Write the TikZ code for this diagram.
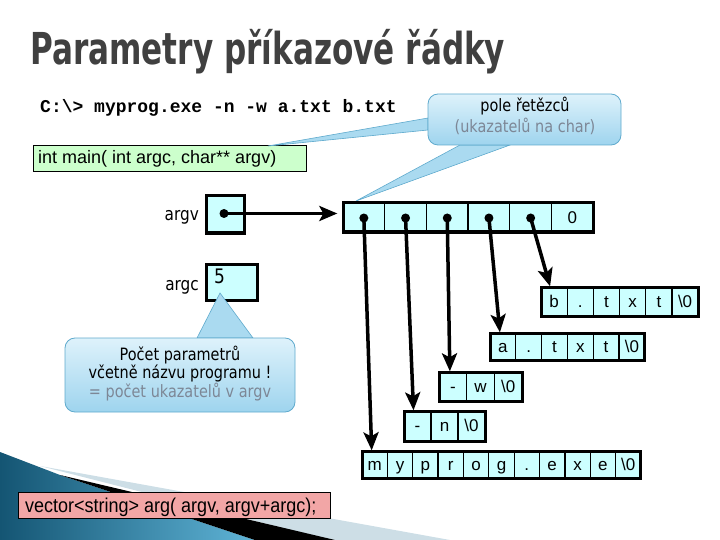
\documentclass[tikz,border=0pt]{standalone}
\usepackage{fontspec}
\setmainfont{DejaVu Sans}
\newfontfamily\condf{DejaVu Sans}[FakeStretch=0.85]
\newfontfamily\arialf{Liberation Sans}
\newfontfamily\narrowf{Liberation Sans}[FakeStretch=0.9]
\newfontfamily\courf{Liberation Mono}
\usetikzlibrary{arrows.meta,calc}
\definecolor{cellfill}{RGB}{204,255,255}
\definecolor{greenfill}{RGB}{204,255,204}
\definecolor{pinkfill}{RGB}{242,166,166}
\definecolor{calltop}{RGB}{222,242,251}
\definecolor{callbot}{RGB}{158,212,238}
\definecolor{callline}{RGB}{95,170,205}
\definecolor{tailfill}{RGB}{170,218,240}
\definecolor{graytext}{RGB}{125,135,150}
\definecolor{titlec}{RGB}{64,64,64}
\definecolor{paleband}{RGB}{205,222,230}
\definecolor{darkteal}{RGB}{20,85,115}
\definecolor{lightteal}{RGB}{95,180,215}
\tikzset{
  cell/.style={draw=black, line width=1.3pt, fill=cellfill, inner sep=0pt,
    text height=13pt, text depth=2pt, font=\arialf\fontsize{17}{20}\selectfont},
  outerbox/.style={draw=black, line width=3pt},
  ptr/.style={line width=3.5pt, -{Stealth[length=18pt,width=15pt,inset=4pt]}},
  dotnode/.style={circle, fill=black, inner sep=0pt, minimum size=9pt},
  lbl/.style={font=\condf\fontsize{18}{20}\selectfont, inner sep=0pt},
  calltext/.style={font=\condf\fontsize{17}{20}\selectfont, inner sep=0pt},
  varbox/.style={draw=black, line width=3pt, fill=cellfill, inner sep=0pt},
  callout/.style={top color=calltop, bottom color=callbot, draw=callline, line width=0.8pt, rounded corners=10pt},
  tail/.style={fill=tailfill, draw=callline, line width=0.6pt},
}
\newcommand\strcells[7]{%
  \foreach \cc [count=\i] in {#7} {%
    \node[cell, minimum width=#4pt, minimum height=#5pt] (#1\i) at ({#2+(\i-0.5)*#4},{#3+#5/2}) {\cc};}
  \draw[outerbox] (#2,#3) rectangle ++({#6*#4},#5);
}
\newcommand\titletext{\resizebox{475pt}{\height}{\fontsize{44}{48}\selectfont\bfseries Parametry příkazové řádky}}
\begin{document}
\begin{tikzpicture}[x=1pt,y=-1pt]
\useasboundingbox (0,0) rectangle (720,540);
% bottom swoosh
\fill[paleband] (40,466) -- (450,540) -- (330,540) -- cycle;
\shade[left color=darkteal, right color=lightteal] (0,452) -- (60,475) -- (255,540) -- (0,540) -- cycle;
\fill[black] (60,475) -- (335,540) -- (255,540) -- cycle;
% title
\node[anchor=base west, text=titlec, inner sep=0pt] (title) at (30,65) {\titletext};
% command line
\node[anchor=base west, inner sep=0pt, font=\courf\bfseries\fontsize{18}{20}\selectfont] (cmd) at (40,113) {C:\textbackslash> myprog.exe -n -w a.txt b.txt};
% int main box
\node[draw=black, line width=1pt, fill=greenfill, minimum width=273pt, minimum height=26pt, inner sep=0pt, anchor=north west] (mainbox) at (33,145) {};
\node[anchor=base west, inner sep=0pt, font=\arialf\fontsize{18}{20}\selectfont] (maintext) at (38,164) {int main( int argc, char** argv)};
% callout 1
\fill[tail] (460,145) -- (356,201) -- (510,145) -- cycle;
\fill[tail] (428,118) -- (268,146) -- (428,130) -- cycle;
\path[callout] (428,94) rectangle (621,145);
\node[calltext, anchor=base] (c1a) at (525,112) {pole řetězců};
\node[calltext, anchor=base, text=graytext] (c1b) at (525,133) {(ukazatelů na char)};
% argv / argc
\node[lbl, anchor=base east] (argvl) at (199,221) {argv};
\node[lbl, anchor=base east] (argcl) at (199,290) {argc};
\node[varbox, minimum width=38pt, minimum height=37pt] (argvbox) at (225,214.5) {};
\node[dotnode] (dv) at (224,213.5) {};
\node[varbox, minimum width=51pt, minimum height=36pt] (argcbox) at (232,282) {};
\node[anchor=base west, inner sep=0pt, font=\condf\fontsize{20}{22}\selectfont] (five) at (214,283) {5};
% callout 2
\fill[tail] (197,338) -- (220,293) -- (253,338) -- cycle;
\path[callout] (65,338) rectangle (295,412);
\node[calltext, anchor=base] (c2a) at (180,360) {Počet parametrů};
\node[calltext, anchor=base] (c2b) at (180,378) {včetně názvu programu !};
\node[calltext, anchor=base, text=graytext] (c2c) at (180,397) {= počet ukazatelů v argv};
% pointer array
\strcells{p}{343}{203}{41.7}{29}{6}{{},{},{},{},{},0}
\foreach \k in {1,...,5} {\node[dotnode] (d\k) at ($(p\k.center)+(0,0.5)$) {};}
% strings
\strcells{b}{541}{287}{26.2}{29}{6}{b,.,t,x,t,\textbackslash 0}
\strcells{a}{490}{333}{25.8}{27}{6}{a,.,t,x,t,\textbackslash 0}
\strcells{w}{439}{372}{27.7}{29}{3}{-,w,\textbackslash 0}
\strcells{n}{404}{411}{27}{30}{3}{-,n,\textbackslash 0}
\strcells{m}{362}{451}{25.36}{27}{11}{m,y,p,r,o,g,.,e,x,e,\textbackslash 0}
% arrows
\draw[ptr] (dv.center) -- ($(dv.center -| p1.west)+(-5,0)$);
\draw[ptr] (d1.center) -- ([xshift=-3pt]m1.north);
\draw[ptr] (d2.center) -- ([xshift=-4pt]n1.north);
\draw[ptr] (d3.center) -- ([xshift=-3pt]w1.north);
\draw[ptr] (d4.center) -- ([xshift=-3pt]a1.north);
\draw[ptr] (d5.center) -- ([xshift=-4pt]b1.north);
% vector box
\node[draw=black, line width=1pt, fill=pinkfill, minimum width=312pt, minimum height=26pt, inner sep=0pt, anchor=north west] (vecbox) at (18,492) {};
\node[anchor=base west, inner sep=0pt, font=\narrowf\fontsize{20}{22}\selectfont] (vectext) at (25,512) {vector<string> arg( argv, argv+argc);};
\end{tikzpicture}
\end{document}
